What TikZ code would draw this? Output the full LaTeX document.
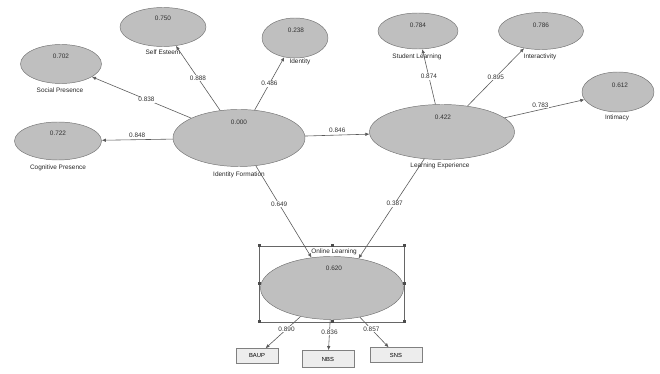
\documentclass[tikz,border=0pt]{standalone}
\usepackage{fontspec}
\setmainfont{Liberation Sans}
\usetikzlibrary{shapes.geometric,arrows.meta}
\begin{document}
\begin{tikzpicture}[x=0.03cm, y=-0.03cm,
  lv/.style={ellipse, draw=black!55, fill=black!25, inner sep=0pt},
  mv/.style={rectangle, draw=black!50, fill=black!7, inner sep=0pt},
  val/.style={font=\fontsize{5.5}{6}\selectfont, text=black!80, inner sep=0.5pt},
  lbl/.style={font=\fontsize{5.5}{6}\selectfont, text=black!85, inner sep=0.5pt},
  path/.style={draw=black!65, line width=0.5pt, -{Latex[length=3.5pt,width=3pt]}},
  coef/.style={font=\fontsize{5.5}{6}\selectfont, text=black!80, fill=white, inner sep=0.6pt}]
\useasboundingbox (0,0) rectangle (660,374);
%latent variables:
\node[lv, minimum width=2.58cm, minimum height=1.17cm] (se) at (163,27) {};
\node[lv, minimum width=1.98cm, minimum height=1.2cm] (idn) at (295,38) {};
\node[lv, minimum width=2.43cm, minimum height=1.17cm] (sp) at (61,64) {};
\node[lv, minimum width=2.61cm, minimum height=1.14cm] (cp) at (58,141) {};
\node[lv, minimum width=3.96cm, minimum height=1.71cm] (idf) at (239,138) {};
\node[lv, minimum width=2.4cm, minimum height=1.08cm] (sl) at (418,31) {};
\node[lv, minimum width=2.55cm, minimum height=1.11cm] (ia) at (541,31) {};
\node[lv, minimum width=2.16cm, minimum height=1.2cm] (im) at (618,92) {};
\node[lv, minimum width=4.35cm, minimum height=1.65cm] (le) at (442,132) {};
\node[lv, minimum width=4.29cm, minimum height=1.89cm] (pa) at (332,288) {};
%values:
\node[val] (seval) at (163,18) {0.750};
\node[val] (idnval) at (296,30) {0.238};
\node[val] (spval) at (61,56) {0.702};
\node[val] (cpval) at (58,133) {0.722};
\node[val] (idfval) at (239,122) {0.000};
\node[val] (slval) at (418,25) {0.784};
\node[val] (iaval) at (541,25) {0.786};
\node[val] (imval) at (620,85) {0.612};
\node[val] (leval) at (443,117) {0.422};
\node[val] (paval) at (334,268) {0.620};
%names:
\node[lbl] (selbl) at (163,52) {Self Esteem};
\node[lbl] (idnlbl) at (300,62) {Identity};
\node[lbl] (splbl) at (60,90) {Social Presence};
\node[lbl] (cplbl) at (58,168) {Cognitive Presence};
\node[lbl] (idflbl) at (239,175) {Identity Formation};
\node[lbl] (sllbl) at (417,57) {Student Learning};
\node[lbl] (ialbl) at (540,57) {Interactivity};
\node[lbl] (imlbl) at (617,118) {Intimacy};
\node[lbl] (lelbl) at (440,166) {Learning Experience};
\node[lbl] (palbl) at (334,252) {Online Learning};
%selection box:
\draw[black!60, line width=0.4pt] (259,246) rectangle (404,322);
\foreach \hx/\hy in {259/246,332/246,404/246,259/284,404/284,259/322,332/322,404/322}
  \fill[black!70] (\hx-1.5,\hy-1.5) rectangle (\hx+1.5,\hy+1.5);
%indicators:
\node[mv, minimum width=1.26cm, minimum height=0.45cm, font=\fontsize{5}{6}\selectfont] (ba) at (257,356) {BAUP};
\node[mv, minimum width=1.56cm, minimum height=0.51cm, font=\fontsize{5}{6}\selectfont] (nb) at (328,359) {NBS};
\node[mv, minimum width=1.56cm, minimum height=0.45cm, font=\fontsize{5}{6}\selectfont] (sn) at (396,355) {SNS};
%paths:
\draw[path] (idf) -- (se) node[coef, pos=0.5] (c1) {0.888};
\draw[path] (idf) -- (idn) node[coef, pos=0.5] (c2) {0.486};
\draw[path] (idf) -- (sp) node[coef, pos=0.45] (c3) {0.838};
\draw[path] (idf) -- (cp) node[coef, pos=0.5, above=1pt] (c4) {0.848};
\draw[path] (idf) -- (le) node[coef, pos=0.5, above=1pt] (c5) {0.846};
\draw[path] (le) -- (sl) node[coef, pos=0.5] (c6) {0.874};
\draw[path] (le) -- (ia) node[coef, pos=0.5] (c7) {0.895};
\draw[path] (le) -- (im) node[coef, pos=0.45, above=1pt] (c8) {0.783};
\draw[path] (idf) -- (pa.124) node[coef, pos=0.42] (c9) {0.649};
\draw[path] (le) -- (pa.48) node[coef, pos=0.45] (c10) {0.387};
\draw[path] (pa) -- (ba) node[coef, pos=0.4] (c11) {0.890};
\draw[path] (pa) -- (nb) node[coef, pos=0.4] (c12) {0.836};
\draw[path] (pa) -- (sn) node[coef, pos=0.4] (c13) {0.857};
\end{tikzpicture}
\end{document}
